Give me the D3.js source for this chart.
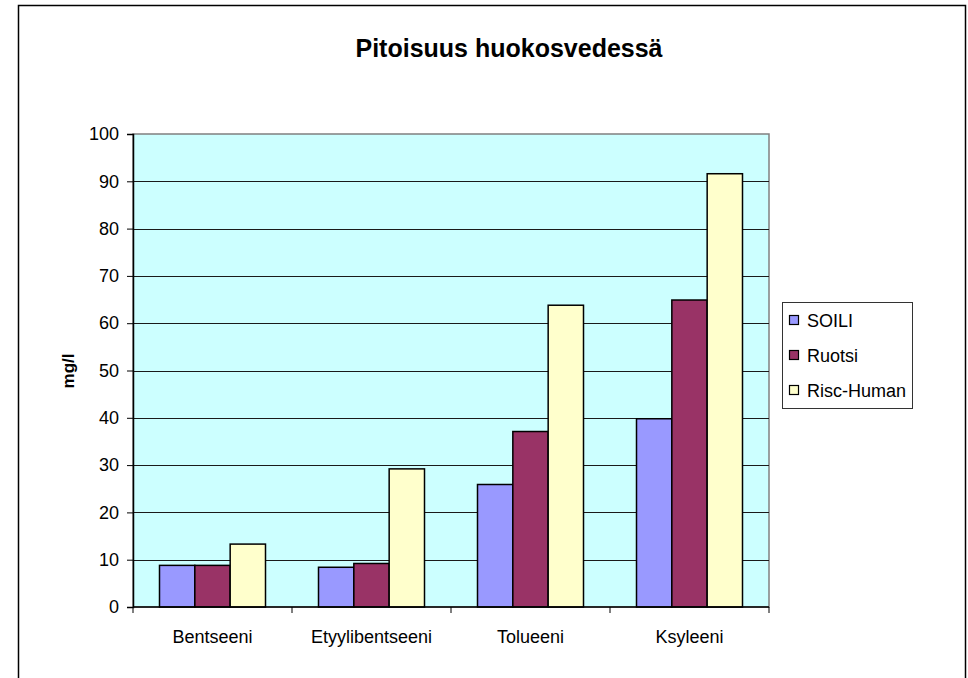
<!DOCTYPE html>
<html>
<head>
<meta charset="utf-8">
<script src="https://cdnjs.cloudflare.com/ajax/libs/d3/7.8.5/d3.min.js"></script>
<style>
  body { margin: 0; background: #fff; }
  svg text { font-family: "Liberation Sans", Arial, sans-serif; fill: #000; }
</style>
</head>
<body>
<div id="chart-area"></div>
<script>
// Data
const categories = ["Bentseeni", "Etyylibentseeni", "Tolueeni", "Ksyleeni"];
const seriesNames = ["SOILI", "Ruotsi", "Risc-Human"];
const soili = [8.8, 8.4, 25.9, 39.8];
const ruotsi = [8.8, 9.2, 37.1, 64.9];
const riscHuman = [13.3, 29.2, 63.8, 91.6];
const yTicks = [0, 10, 20, 30, 40, 50, 60, 70, 80, 90, 100];
const seriesColors = ["#9999FF", "#993366", "#FFFFCC"];

const W = 968, H = 678;
const plot = { left: 133, right: 769, top: 134, bottom: 607 };

const svg = d3.select("#chart-area").append("svg")
  .attr("width", W)
  .attr("height", H);

// chart frame
svg.append("rect")
  .attr("x", 18.5).attr("y", 5.5)
  .attr("width", 947).attr("height", 690)
  .attr("fill", "#fff")
  .attr("stroke", "#000")
  .attr("stroke-width", 1.5);

// title
svg.append("text")
  .attr("x", 509)
  .attr("y", 57)
  .attr("text-anchor", "middle")
  .style("font-size", "25px")
  .style("font-weight", "bold")
  .text("Pitoisuus huokosvedessä");

// scales
const x = d3.scaleBand()
  .domain(categories)
  .range([plot.left, plot.right]);

const xInner = d3.scaleBand()
  .domain(seriesNames)
  .range([0, x.bandwidth()])
  .paddingOuter(0.75)
  .paddingInner(0);

const y = d3.scaleLinear()
  .domain([0, 100])
  .range([plot.bottom, plot.top]);

// plot background
svg.append("rect")
  .attr("x", plot.left).attr("y", plot.top)
  .attr("width", plot.right - plot.left)
  .attr("height", plot.bottom - plot.top)
  .attr("fill", "#CCFFFF")
  .attr("stroke", "#808080")
  .attr("stroke-width", 1.5);

// gridlines
svg.append("g")
  .selectAll("line")
  .data(yTicks.filter(d => d > 0 && d < 100))
  .join("line")
  .attr("x1", plot.left).attr("x2", plot.right)
  .attr("y1", d => Math.round(y(d)) + 0.5)
  .attr("y2", d => Math.round(y(d)) + 0.5)
  .attr("stroke", "#1a1a1a")
  .attr("stroke-width", 1);

// bars
const seriesData = [soili, ruotsi, riscHuman];
const groups = svg.append("g")
  .selectAll("g")
  .data(seriesNames.map((name, i) => ({ name, values: seriesData[i], color: seriesColors[i] })))
  .join("g")
  .attr("fill", d => d.color);

groups.selectAll("rect")
  .data(d => d.values.map((v, j) => ({ cat: categories[j], name: d.name, value: v })))
  .join("rect")
  .attr("x", d => x(d.cat) + xInner(d.name))
  .attr("y", d => y(d.value))
  .attr("width", xInner.bandwidth())
  .attr("height", d => y(0) - y(d.value))
  .attr("stroke", "#000")
  .attr("stroke-width", 1.5);

// y axis
const yAxis = d3.axisLeft(y)
  .tickValues(yTicks)
  .tickSize(6)
  .tickPadding(8);

const yAxisG = svg.append("g")
  .attr("transform", `translate(${plot.left},0)`)
  .call(yAxis);
yAxisG.select(".domain").attr("stroke", "#000").attr("stroke-width", 1.5);
yAxisG.selectAll(".tick line").attr("stroke", "#000");
yAxisG.selectAll(".tick text")
  .style("font-size", "18px")
  .attr("font-family", null);

// x axis: ticks at category boundaries
const xAxisG = svg.append("g")
  .attr("transform", `translate(0,${plot.bottom})`);
xAxisG.append("line")
  .attr("x1", plot.left).attr("x2", plot.right)
  .attr("stroke", "#000").attr("stroke-width", 1.5);
xAxisG.selectAll(".bound")
  .data(categories.concat([null]))
  .join("line")
  .attr("class", "bound")
  .attr("x1", (d, i) => i < categories.length ? x(d) : x(categories[i - 1]) + x.bandwidth())
  .attr("x2", (d, i) => i < categories.length ? x(d) : x(categories[i - 1]) + x.bandwidth())
  .attr("y1", 0).attr("y2", 6)
  .attr("stroke", "#000");
xAxisG.selectAll(".cat")
  .data(categories)
  .join("text")
  .attr("class", "cat")
  .attr("x", d => x(d) + x.bandwidth() / 2)
  .attr("y", 36)
  .attr("text-anchor", "middle")
  .style("font-size", "18px")
  .text(d => d);

// y axis title
svg.append("text")
  .attr("transform", "translate(74,371) rotate(-90)")
  .attr("text-anchor", "middle")
  .style("font-size", "17px")
  .style("font-weight", "bold")
  .text("mg/l");

// legend
const legend = svg.append("g");
legend.append("rect")
  .attr("x", 782.5).attr("y", 302.5)
  .attr("width", 130).attr("height", 106)
  .attr("fill", "#fff")
  .attr("stroke", "#333")
  .attr("stroke-width", 1);

const rowY = d3.scalePoint()
  .domain(seriesNames)
  .range([320, 390]);

const items = legend.selectAll(".item")
  .data(seriesNames)
  .join("g")
  .attr("class", "item")
  .attr("transform", d => `translate(789,${rowY(d)})`);
items.append("rect")
  .attr("x", 0.5).attr("y", -4.5)
  .attr("width", 9).attr("height", 9)
  .attr("fill", (d, i) => seriesColors[i])
  .attr("stroke", "#000")
  .attr("stroke-width", 1.2);
items.append("text")
  .attr("x", 18)
  .attr("y", 6.5)
  .style("font-size", "18px")
  .text(d => d);
</script>
</body>
</html>
